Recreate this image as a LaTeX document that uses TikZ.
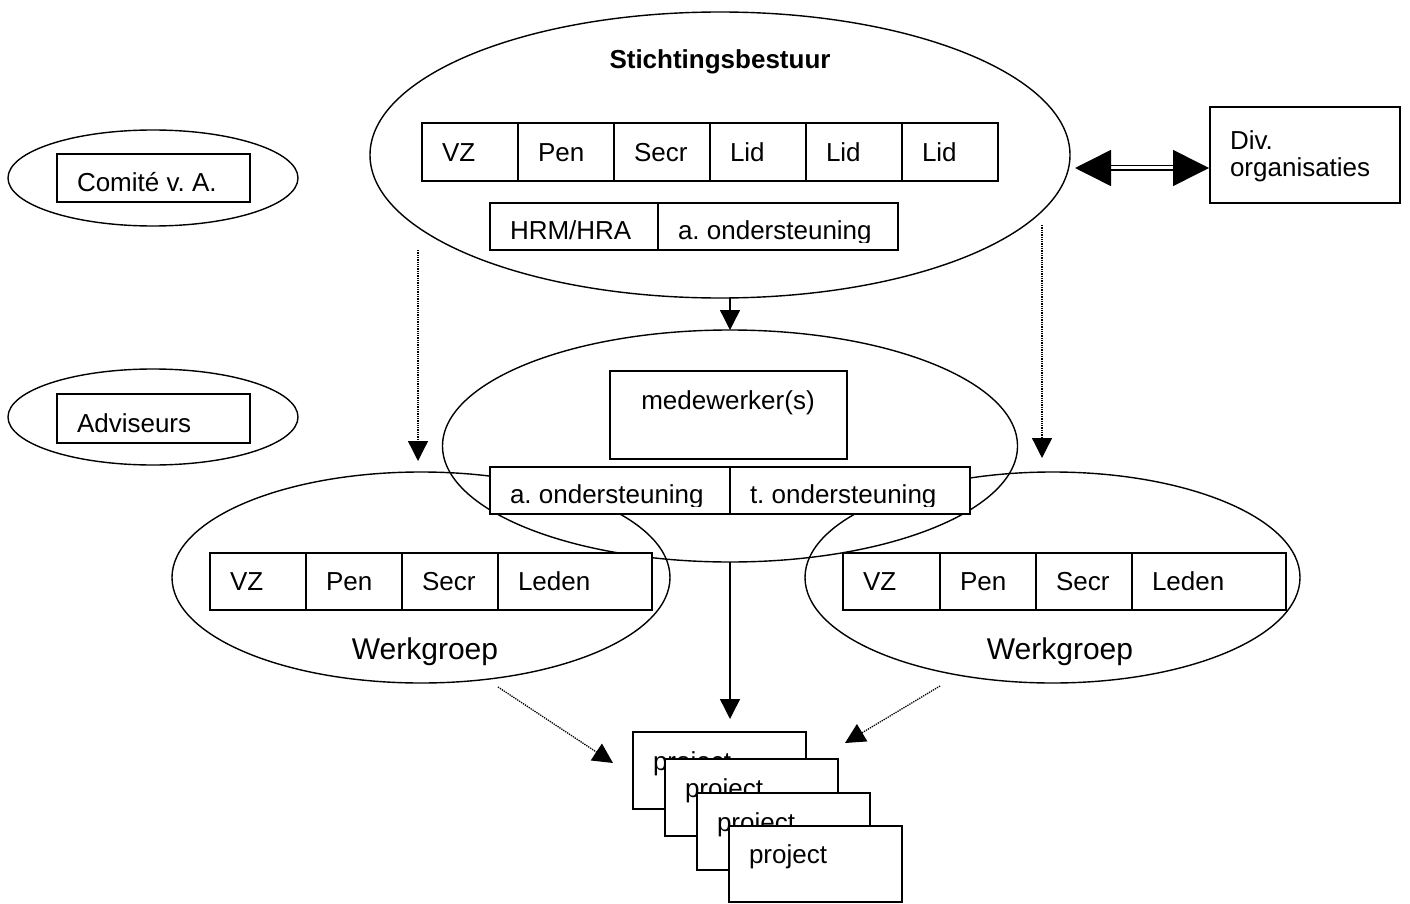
\documentclass[tikz,border=0pt]{standalone}
\usepackage{fontspec}
\setmainfont{Liberation Sans}
\usetikzlibrary{arrows.meta,shapes.geometric,calc}
\frenchspacing
\newcommand\mycell[7]{%
  \node[cellbox, minimum width=#4pt, minimum height=#5pt] (#1) at (#2,#3) {};
  \node[txt] (#1t) at (#2+20,#3+#6) {#7};
}
\newcommand\myclipcell[8]{%
  \node[cellbox, minimum width=#4pt, minimum height=#5pt] (#1) at (#2,#3) {};
  \begin{scope}
    \clip (#2,#3) rectangle (#2+#4,#8);
    \node[txt] (#1t) at (#2+20,#3+#6) {#7};
  \end{scope}
}
\begin{document}
\begin{tikzpicture}[x=1pt,y=-1pt,
  every node/.style={inner sep=0pt, outer sep=0pt},
  ell/.style={draw, ellipse, line width=1.4pt},
  cellbox/.style={draw, rectangle, fill=white, line width=1.4pt, anchor=north west},
  txt/.style={font=\frenchspacing\fontsize{26}{30}\selectfont, anchor=base west},
  sarrow/.style={line width=1.4pt, -{Triangle[width=20pt,length=20pt]}},
  darrow/.style={line width=1.3pt, densely dotted, -{Triangle[width=20pt,length=20pt]}},
  dblarrow/.style={line width=1.5pt, double, double distance=3pt,
    {Triangle[width=36pt,length=36pt]}-{Triangle[width=36pt,length=36pt]}}]
\useasboundingbox (0,0) rectangle (1410,904);

% ellipses
\node[ell, minimum width=700pt, minimum height=286pt] (sb) at (720,155) {};
\node[ell, minimum width=290pt, minimum height=96pt] (ca) at (153,178) {};
\node[ell, minimum width=290pt, minimum height=96pt] (ad) at (153,417) {};
\node[ell, minimum width=575pt, minimum height=232pt] (me) at (730,446) {};
\node[ell, minimum width=498pt, minimum height=211pt] (wl) at (421,577.5) {};
\node[ell, minimum width=495pt, minimum height=211pt] (wr) at (1052.5,577.5) {};

% Stichtingsbestuur
\node[font=\bfseries\fontsize{26}{30}\selectfont, anchor=base] (sbt) at (720,69) {Stichtingsbestuur};
\mycell{s1}{422}{123}{96}{58}{39}{VZ}
\mycell{s2}{518}{123}{96}{58}{39}{Pen}
\mycell{s3}{614}{123}{96}{58}{39}{Secr}
\mycell{s4}{710}{123}{96}{58}{39}{Lid}
\mycell{s5}{806}{123}{96}{58}{39}{Lid}
\mycell{s6}{902}{123}{96}{58}{39}{Lid}
\mycell{h1}{490}{203}{168}{47}{36}{HRM/HRA}
\myclipcell{h2}{658}{203}{240}{47}{36}{a. ondersteuning}{242.5}

% side ellipses
\mycell{cab}{57}{154}{193}{48}{38}{Comité v. A.}
\mycell{adb}{57}{394}{193}{49}{38}{Adviseurs}

% Div. organisaties
\node[cellbox, minimum width=190pt, minimum height=96pt] (div) at (1210,107) {};
\node[txt] (divt1) at (1230,150) {Div.};
\node[txt] (divt2) at (1230,177) {organisaties};

% medewerkers
\node[cellbox, minimum width=237pt, minimum height=88pt] (mw) at (610,371) {};
\node[txt, anchor=base] (mwt) at (728,409) {medewerker(s)};
\myclipcell{o1}{490}{467}{240}{47}{36}{a. ondersteuning}{506.5}
\myclipcell{o2}{730}{467}{240}{47}{36}{t. ondersteuning}{506.5}

% Werkgroep left
\mycell{l1}{210}{553}{96}{57}{37}{VZ}
\mycell{l2}{306}{553}{96}{57}{37}{Pen}
\mycell{l3}{402}{553}{96}{57}{37}{Secr}
\mycell{l4}{498}{553}{154}{57}{37}{Leden}
\node[font=\fontsize{30}{34}\selectfont, anchor=base] (wlt) at (425,659) {Werkgroep};
% Werkgroep right
\mycell{r1}{843}{553}{97}{57}{37}{VZ}
\mycell{r2}{940}{553}{96}{57}{37}{Pen}
\mycell{r3}{1036}{553}{96}{57}{37}{Secr}
\mycell{r4}{1132}{553}{154}{57}{37}{Leden}
\node[font=\fontsize{30}{34}\selectfont, anchor=base] (wrt) at (1060,659) {Werkgroep};

% projects
\mycell{p1}{633}{732}{173}{77}{38}{project}
\mycell{p2}{665}{759}{173}{77}{38}{project}
\mycell{p3}{697}{793}{173}{77}{38}{project}
\mycell{p4}{729}{826}{173}{76}{37}{project}

% connectors
\coordinate (ptop) at (730,719);
\draw[sarrow] (sb.south -| me.north) -- (me.north);
\draw[sarrow] (me.south) -- (ptop);

\coordinate (dl0) at (418,250);
\coordinate (dl1) at (418,461);
\coordinate (dr0) at (1042,225);
\coordinate (dr1) at (1042,458);
\draw[darrow] (dl0) -- (dl1);
\draw[darrow] (dr0) -- (dr1);

\coordinate (gl0) at (498,687);
\coordinate (gl1) at (613,763);
\coordinate (gr0) at (940,686);
\coordinate (gr1) at (845,743);
\draw[darrow] (gl0) -- (gl1);
\draw[darrow] (gr0) -- (gr1);

\coordinate (da) at (1075,168);
\coordinate (db) at (1209,168);
\draw[dblarrow] (da) -- (db);
\end{tikzpicture}
\end{document}
